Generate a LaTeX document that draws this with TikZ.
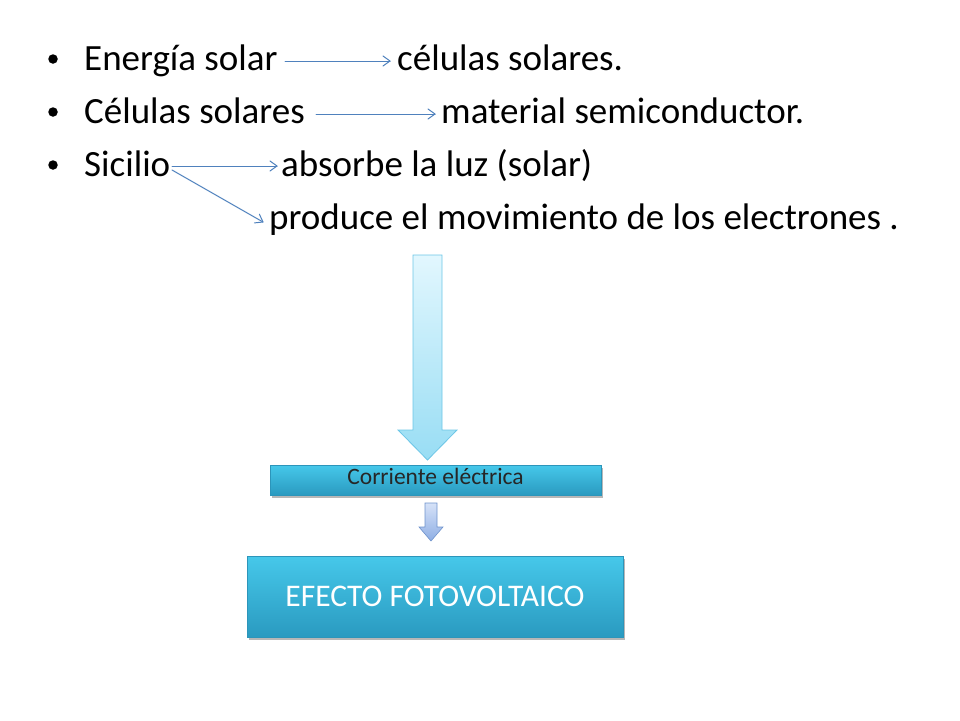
\documentclass[tikz,border=0pt]{standalone}
\usepackage{fontspec}
\setmainfont{Carlito}
\usetikzlibrary{shadows,calc}
\definecolor{linkblue}{HTML}{4F81BD}
\definecolor{bigtop}{HTML}{E2F7FE}
\definecolor{bigbot}{HTML}{98DDF4}
\definecolor{bigedge}{HTML}{6CC6E6}
\definecolor{boxtop}{HTML}{46C8EA}
\definecolor{boxbot}{HTML}{2A9AC0}
\definecolor{boxedge}{HTML}{2C95BA}
\definecolor{smtop}{HTML}{D6E2F8}
\definecolor{smbot}{HTML}{8EAEE4}
\definecolor{smedge}{HTML}{6F93CC}
\tikzset{
  maintext/.style={anchor=base west, inner sep=0pt, font=\fontsize{37}{40}\selectfont},
  link/.style={draw=linkblue, line width=1pt, line cap=round, line join=round},
  bluebox/.style={rectangle, top color=boxtop, bottom color=boxbot, draw=boxedge, line width=0.5pt,
     drop shadow={shadow xshift=1.5pt, shadow yshift=-2.5pt, opacity=0.4, fill=black!70}},
  bul/.style={circle, fill=black, inner sep=0pt, minimum size=9.5pt}
}
\begin{document}
\begin{tikzpicture}[x=1pt, y=-1pt]
\useasboundingbox (0,0) rectangle (960,720);
% bullets
\node[bul] (b1) at (53,59) {};
\node[bul] (b2) at (53,112) {};
\node[bul] (b3) at (53,165) {};
% texts
\node[maintext] (t1) at (84,70) {Energía solar};
\node[maintext] (t1b) at (397,70) {células solares.};
\node[maintext] (t2) at (84,123) {Células solares};
\node[maintext] (t2b) at (441,123) {material semiconductor.};
\node[maintext] (t3) at (84,176) {Sicilio};
\node[maintext] (t3b) at (281,176) {absorbe la luz (solar)};
\node[maintext] (t4) at (269,229) {produce el movimiento de los electrones .};
% arrow coordinates
\coordinate (a1s) at (285,61);
\coordinate (a1e) at (390,61);
\coordinate (a2s) at (316,114);
\coordinate (a2e) at (435,114);
\coordinate (a3s) at (172,166);
\coordinate (a3e) at (277,166);
\coordinate (a4s) at (172,170);
\coordinate (a4e) at (263,222);
\draw[link] (a1s) -- (a1e);
\draw[link] ($(a1e)+(-7,-5)$) -- (a1e) -- ($(a1e)+(-7,5)$);
\draw[link] (a2s) -- (a2e);
\draw[link] ($(a2e)+(-7,-5)$) -- (a2e) -- ($(a2e)+(-7,5)$);
\draw[link] (a3s) -- (a3e);
\draw[link] ($(a3e)+(-7,-5)$) -- (a3e) -- ($(a3e)+(-7,5)$);
\draw[link] (a4s) -- (a4e);
\draw[link] ($(a4e)+(-8.6,0.9)$) -- (a4e) -- ($(a4e)+(-3.6,-7.8)$);
% big arrow
\shade[top color=bigtop, bottom color=bigbot, draw=bigedge, line width=0.8pt]
  (413,255) -- (442,255) -- (442,430) -- (457,430) -- (427.5,460) -- (398,430) -- (413,430) -- cycle;
% boxes
\node[bluebox, minimum width=331pt, minimum height=30pt, inner sep=0pt,
      font=\fontsize{23.5}{26}\selectfont, text=black!85] (c) at (435.5,480)
      {\raisebox{7pt}{Corriente eléctrica}};
\shade[top color=smtop, bottom color=smbot, draw=smedge, line width=0.6pt]
  (425,503) -- (437,503) -- (437,527) -- (443,527) -- (431,541) -- (419,527) -- (425,527) -- cycle;
\node[bluebox, minimum width=376pt, minimum height=81pt, inner sep=0pt,
      font=\fontsize{31.5}{34}\selectfont, text=white] (e) at (435,596.5) {EFECTO FOTOVOLTAICO};
\end{tikzpicture}
\end{document}
